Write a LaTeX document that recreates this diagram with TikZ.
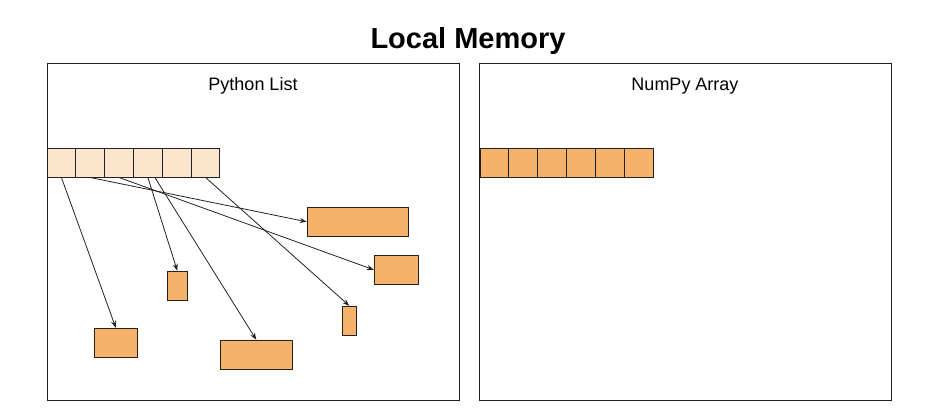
\documentclass[tikz,border=0pt]{standalone}
\usepackage{fontspec}
\setmainfont{Liberation Sans}
\usetikzlibrary{arrows.meta}
\definecolor{lightpeach}{HTML}{FCE5CD}
\definecolor{orangebox}{HTML}{F6B26B}
\definecolor{edge}{HTML}{222222}
\begin{document}
\begin{tikzpicture}[x=1pt,y=-1pt,
  panel/.style={draw=edge,line width=1pt,rectangle,inner sep=0pt},
  lcell/.style={draw=edge,fill=lightpeach,line width=1pt,rectangle,inner sep=0pt,minimum width=28.83pt,minimum height=29pt},
  ncell/.style={draw=edge,fill=orangebox,line width=1pt,rectangle,inner sep=0pt,minimum width=28.95pt,minimum height=29pt},
  obox/.style={draw=edge,fill=orangebox,line width=1pt,rectangle,inner sep=0pt,minimum height=29pt},
  ptr/.style={draw=edge,line width=0.8pt,-{Stealth[length=7pt,width=5pt]}},
  lbl/.style={font=\fontsize{18}{20}\selectfont,inner sep=0pt}]
\useasboundingbox (0,0) rectangle (937,418);
\node[font=\fontsize{29}{32}\selectfont\bfseries,inner sep=0pt] (title) at (468,40.5) {Local Memory};
\node[panel,minimum width=412pt,minimum height=337pt] (lpanel) at (253,231.5) {};
\node[panel,minimum width=412pt,minimum height=337pt] (rpanel) at (685,231.5) {};
\node[lbl] (ltitle) at (253,86) {Python List};
\node[lbl] (rtitle) at (685,86) {NumPy Array};
% python list cells
\foreach \i in {1,...,6}{
  \node[lcell] (c\i) at ({47+28.83*(\i-0.5)},162.5) {};
}
% numpy cells
\foreach \i in {1,...,6}{
  \node[ncell] (n\i) at ({480+28.95*(\i-0.5)},162.8) {};
}
% objects
\node[obox,minimum width=101pt] (A) at (357.8,221.8) {};
\node[obox,minimum width=44pt] (B) at (396.3,269.8) {};
\node[obox,minimum width=20pt] (C) at (177.3,285.8) {};
\node[obox,minimum width=14pt] (D) at (349.3,320.8) {};
\node[obox,minimum width=43pt] (E) at (115.8,342.8) {};
\node[obox,minimum width=72pt] (F) at (256.3,354.8) {};
% pointers
\draw[ptr] (c1.south) -- (E.north);
\draw[ptr] (c2.south) -- (A.west);
\draw[ptr] (c3.south) -- (B.west);
\draw[ptr] (c4.south) -- (C.north);
\draw[ptr] ([xshift=7pt]c4.south) -- (F.north);
\draw[ptr] (c6.south) -- (D.north);
\end{tikzpicture}
\end{document}
